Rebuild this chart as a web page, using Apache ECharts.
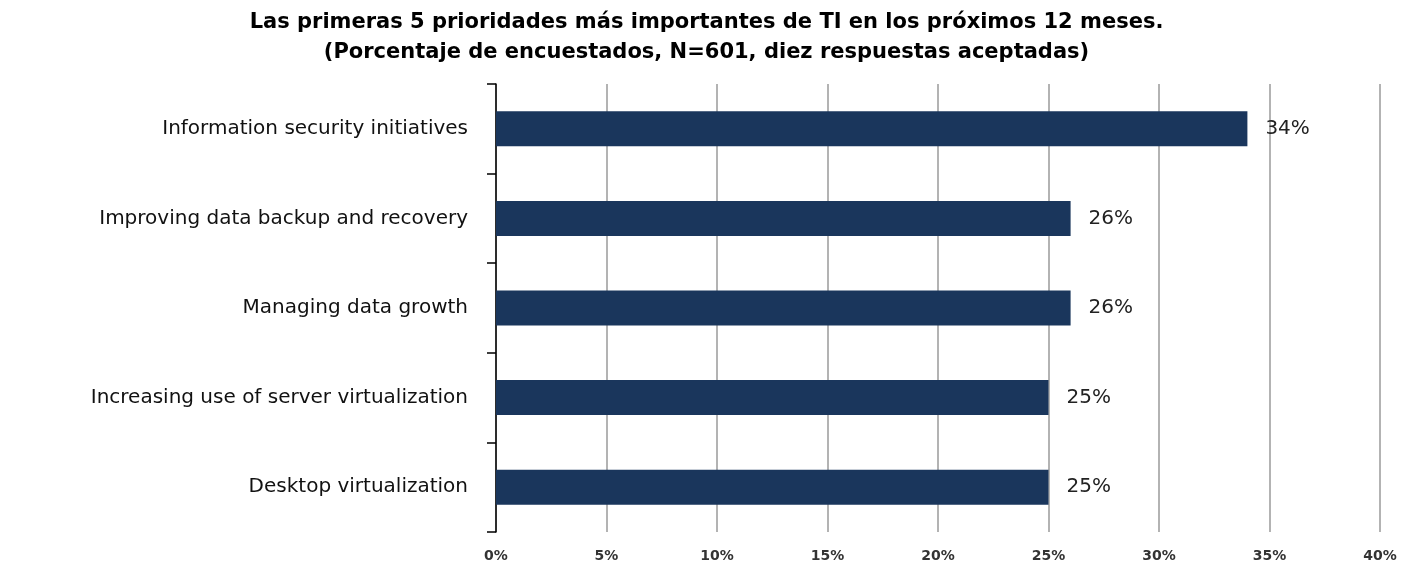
<!DOCTYPE html>
<html>
<head>
<meta charset="utf-8">
<script src="https://cdn.jsdelivr.net/npm/echarts@6/dist/echarts.min.js"></script>
<style>html,body{margin:0;padding:0;background:#fff}#c{width:1413px;height:563px}</style>
</head>
<body>
<div id="c"></div>
<script>
const titleLines = ['Las primeras 5 prioridades más importantes de TI en los próximos 12 meses.', '(Porcentaje de encuestados, N=601, diez respuestas aceptadas)'];
const categories = ['Information security initiatives', 'Improving data backup and recovery', 'Managing data growth', 'Increasing use of server virtualization', 'Desktop virtualization'];
const values = [34, 26, 26, 25, 25];
const xTicks = [0, 5, 10, 15, 20, 25, 30, 35, 40];

const chart = echarts.init(document.getElementById('c'));
chart.setOption({
  animation: false,
  title: {
    text: titleLines.join('\n'),
    left: 'center', top: 3,
    textStyle: { fontFamily: 'DejaVu Sans', fontWeight: 'bold', fontSize: 21, lineHeight: 30, color: '#000' }
  },
  grid: { left: 496, right: 33, top: 84, bottom: 31 },
  xAxis: {
    type: 'value', min: xTicks[0], max: xTicks[xTicks.length - 1], interval: xTicks[1] - xTicks[0],
    axisLine: { show: false }, axisTick: { show: false },
    splitLine: { lineStyle: { color: '#9a9a9a', width: 1.5 } },
    axisLabel: { formatter: v => v + '%', fontFamily: 'DejaVu Sans', fontWeight: 'bold', fontSize: 14, color: '#333', margin: 17 }
  },
  yAxis: {
    type: 'category', data: categories, inverse: true,
    axisLine: { lineStyle: { color: '#000', width: 1.5 } },
    axisTick: { show: true, length: 9, lineStyle: { color: '#000', width: 1.5 } },
    axisLabel: { fontFamily: 'DejaVu Sans', fontSize: 20, color: '#111', margin: 28 }
  },
  series: [{
    type: 'bar', data: values, barWidth: 35,
    itemStyle: { color: '#1a365c' },
    label: { show: true, position: 'right', distance: 18, formatter: p => p.value + '%', fontFamily: 'DejaVu Sans', fontSize: 20, color: '#222' }
  }]
});
</script>
</body>
</html>
